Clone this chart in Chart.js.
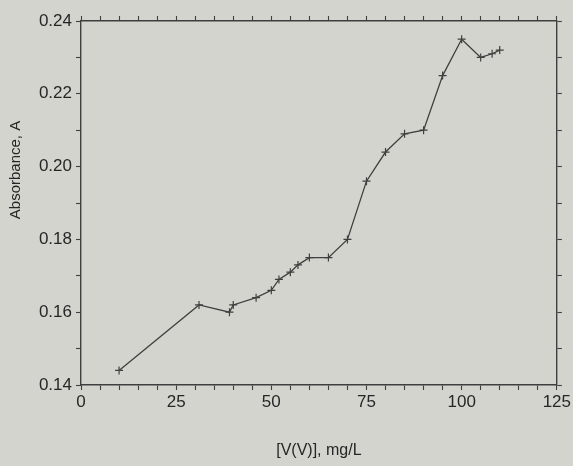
<!DOCTYPE html>
<html>
<head>
<meta charset="utf-8">
<script src="https://cdn.jsdelivr.net/npm/chart.js@4"></script>
<style>
  html, body { margin: 0; padding: 0; background: #d4d4cf; }
  #wrap { width: 573px; height: 466px; }
</style>
</head>
<body>
<div id="wrap"><canvas id="chart" width="573" height="466"></canvas></div>
<script>
// ---------------------------------------------------------------------------
// Data
// ---------------------------------------------------------------------------

const concVV = [10, 31, 39, 40, 46, 50, 52, 55, 57, 60, 65, 70, 75, 80, 85, 90, 95, 100, 105, 108, 110];
const absorbance = [0.144, 0.162, 0.160, 0.162, 0.164, 0.166, 0.169, 0.171, 0.173, 0.175, 0.175, 0.180,
                    0.196, 0.204, 0.209, 0.210, 0.225, 0.235, 0.230, 0.231, 0.232];

const xTickLabels = [0, 25, 50, 75, 100, 125];
const yTickLabels = [0.14, 0.16, 0.18, 0.20, 0.22, 0.24];

const xTitle = '[V(V)], mg/L';
const yTitle = 'Absorbance, A';

// ---------------------------------------------------------------------------
// Styling
// ---------------------------------------------------------------------------

const INK = '#3f3f3f';
const TEXT = '#262626';
const FONT = '"Liberation Sans", Arial, sans-serif';

const points = concVV.map((x, i) => ({ x, y: absorbance[i] }));

function frameScale(position, extra) {
  return Object.assign({
    position,
    border: { display: true, color: INK, width: 1.4 },
    grid: { display: true, drawOnChartArea: false, drawTicks: true, tickLength: 5, tickWidth: 1.1, color: INK },
  }, extra);
}

// y title drawn by hand: in the figure it sits above the vertical centre
const yTitlePlugin = {
  id: 'yTitle',
  afterDraw(chart) {
    const ctx = chart.ctx;
    ctx.save();
    ctx.translate(16, 170);
    ctx.rotate(-Math.PI / 2);
    ctx.font = '15px ' + FONT;
    ctx.fillStyle = TEXT;
    ctx.textAlign = 'center';
    ctx.textBaseline = 'middle';
    ctx.fillText(yTitle, 0, 0);
    ctx.restore();
  }
};

Chart.defaults.font.family = FONT;
Chart.defaults.color = TEXT;

new Chart(document.getElementById('chart').getContext('2d'), {
  type: 'line',
  data: {
    datasets: [{
      data: points,
      borderColor: INK,
      borderWidth: 1.3,
      tension: 0,
      fill: false,
      pointStyle: 'cross',
      pointRadius: 4,
      pointBorderWidth: 1.2,
      pointBorderColor: INK,
      pointHoverRadius: 4,
    }]
  },
  options: {
    responsive: false,
    animation: false,
    events: [],
    layout: { padding: { left: 0, right: 16, top: 21, bottom: 0 } },
    plugins: { legend: { display: false }, tooltip: { enabled: false } },
    scales: {
      x: frameScale('bottom', {
        type: 'linear', min: 0, max: 125,
        ticks: {
          stepSize: 5, autoSkip: false, maxRotation: 0, padding: 2,
          font: { size: 17 },
          callback: v => xTickLabels.includes(v) ? String(v) : ''
        },
        title: { display: true, text: xTitle, font: { size: 16 }, padding: { top: 4, bottom: 6 } },
        afterFit: s => { s.height = 81; }
      }),
      y: frameScale('left', {
        type: 'linear', min: 0.14, max: 0.24,
        ticks: {
          stepSize: 0.01, autoSkip: false, padding: 4,
          font: { size: 17 },
          callback: v => yTickLabels.some(t => Math.abs(t - v) < 1e-6) ? v.toFixed(2) : ''
        },
        afterFit: s => { s.width = 81; }
      }),
      x2: frameScale('top', {
        type: 'linear', min: 0, max: 125,
        ticks: { stepSize: 5, autoSkip: false, display: false },
        afterFit: s => { s.height = 0; }
      }),
      y2: frameScale('right', {
        type: 'linear', min: 0.14, max: 0.24,
        ticks: { stepSize: 0.01, autoSkip: false, display: false },
        afterFit: s => { s.width = 0; }
      })
    }
  },
  plugins: [yTitlePlugin]
});
</script>
</body>
</html>
